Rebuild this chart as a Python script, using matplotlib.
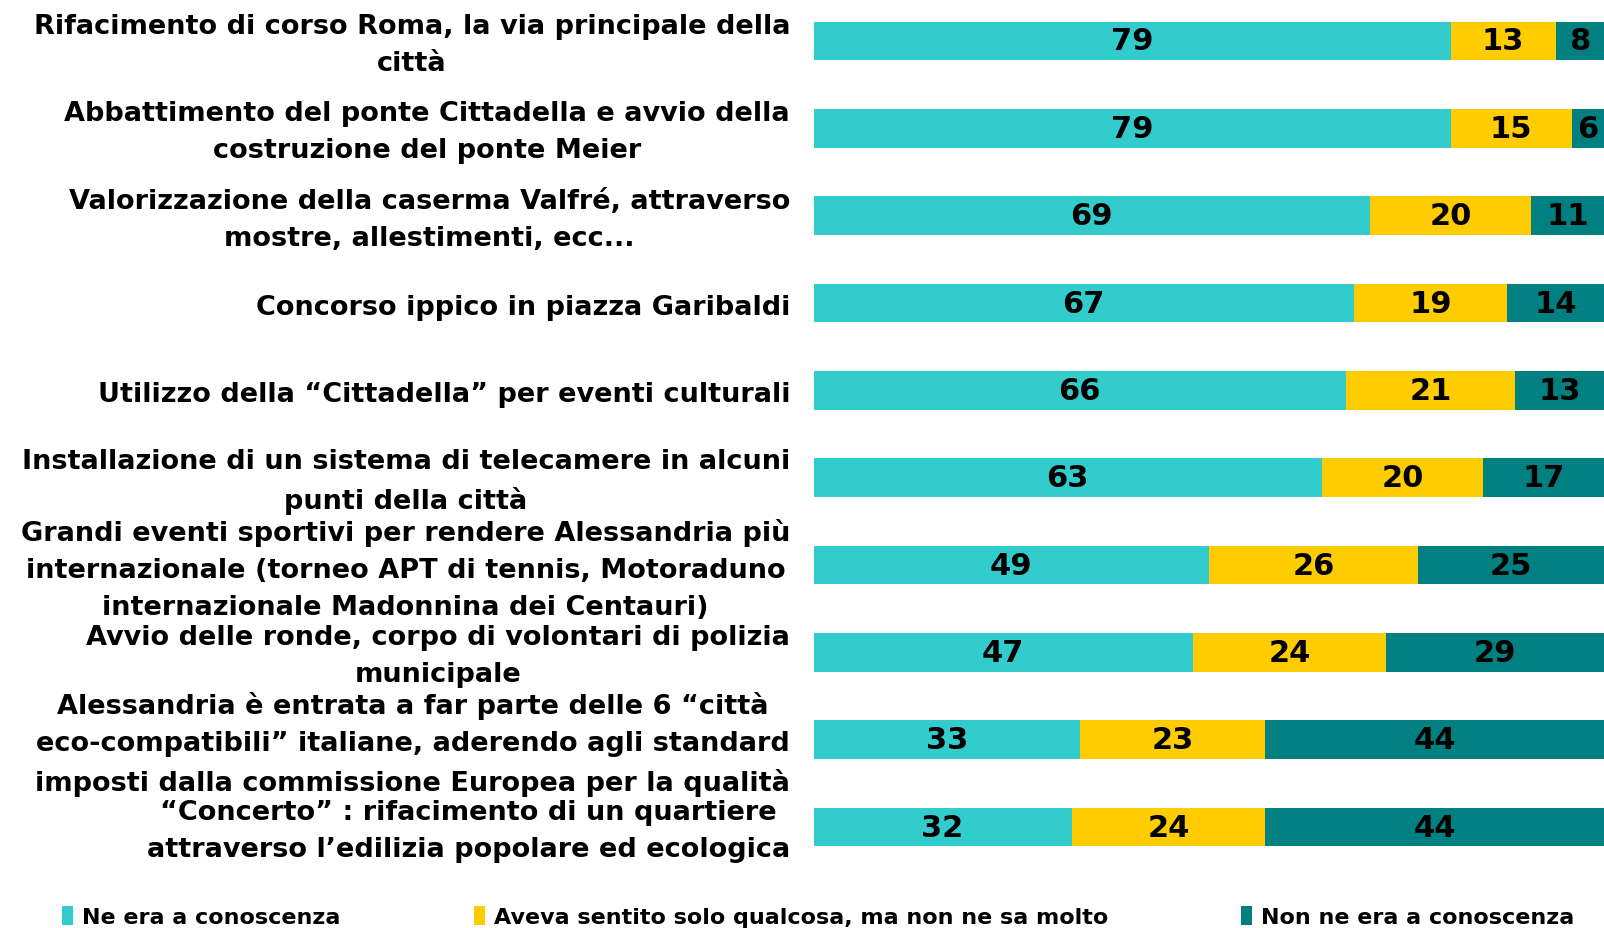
import matplotlib.pyplot as plt
from matplotlib.transforms import ScaledTranslation
import numpy as np

categories = [
    "Rifacimento di corso Roma, la via principale della\ncittà",
    "Abbattimento del ponte Cittadella e avvio della\ncostruzione del ponte Meier",
    "Valorizzazione della caserma Valfré, attraverso\nmostre, allestimenti, ecc...",
    "Concorso ippico in piazza Garibaldi",
    "Utilizzo della “Cittadella” per eventi culturali",
    "Installazione di un sistema di telecamere in alcuni\npunti della città",
    "Grandi eventi sportivi per rendere Alessandria più\ninternazionale (torneo APT di tennis, Motoraduno\ninternazionale Madonnina dei Centauri)",
    "Avvio delle ronde, corpo di volontari di polizia\nmunicipale",
    "Alessandria è entrata a far parte delle 6 “città\neco-compatibili” italiane, aderendo agli standard\nimposti dalla commissione Europea per la qualità",
    "“Concerto” : rifacimento di un quartiere\nattraverso l’edilizia popolare ed ecologica",
]
series_names = [
    "Ne era a conoscenza",
    "Aveva sentito solo qualcosa, ma non ne sa molto",
    "Non ne era a conoscenza",
]
known = [79, 79, 69, 67, 66, 63, 49, 47, 33, 32]
heard = [13, 15, 20, 19, 21, 20, 26, 24, 23, 24]
unknown = [8, 6, 11, 14, 13, 17, 25, 29, 44, 44]

colors = ["#33CCCC", "#FFCC00", "#008080"]

plt.rcParams["font.family"] = "DejaVu Sans"
plt.rcParams["font.weight"] = "bold"

fig = plt.figure(figsize=(16.04, 9.29), dpi=100)
ax = fig.add_axes([0.5072, 0.0617, 0.4928, 0.9401])

y = np.arange(len(categories))
left = np.zeros(len(categories))
for vals, name, col in zip([known, heard, unknown], series_names, colors):
    bars = ax.barh(y, vals, left=left, height=0.44, color=col, label=name)
    ax.bar_label(bars, labels=[str(v) for v in vals], label_type="center",
                 fontsize=22, fontweight="bold", color="black")
    left += np.array(vals)

ax.set_xlim(0, 98)
ax.set_ylim(9.5, -0.5)
ax.set_yticks(y)
ax.set_yticklabels([])
ax.tick_params(axis="y", length=0)
ax.set_xticks([])
for s in ax.spines.values():
    s.set_visible(False)

# category labels, right-aligned just left of the bars
shift = ScaledTranslation(-0.235, -0.035, fig.dpi_scale_trans)
for yi, lab in zip(y, categories):
    ax.text(0, yi, lab, transform=ax.get_yaxis_transform() + shift,
            ha="right", va="center", multialignment="center",
            fontsize=19.5, fontweight="bold", linespacing=1.55)

fig.legend(loc="upper left", bbox_to_anchor=(0.033, 0.033), ncol=3,
           frameon=False, fontsize=16, handlelength=0.5, handleheight=0.9,
           handletextpad=0.4, columnspacing=6.0, borderaxespad=0)

fig.savefig("out.png", dpi=100)
